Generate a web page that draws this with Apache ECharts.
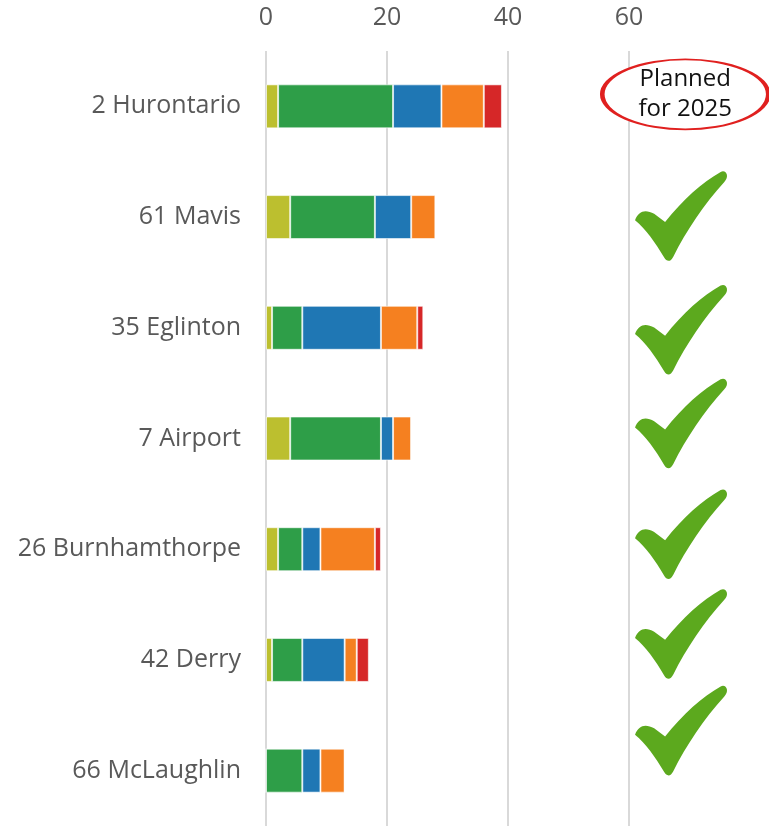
<!DOCTYPE html>
<html>
<head>
<meta charset="utf-8">
<script src="https://cdn.jsdelivr.net/npm/echarts@6/dist/echarts.min.js"></script>
<style>
  html, body { margin: 0; padding: 0; background: #fff; }
  #chart { width: 769px; height: 826px; }
</style>
</head>
<body>
<div id="chart"></div>
<script>
const routes = ['2 Hurontario', '61 Mavis', '35 Eglinton', '7 Airport', '26 Burnhamthorpe', '42 Derry', '66 McLaughlin']
// stacked segment lengths per route
const olive  = [2, 4, 1, 4, 2, 1, 0]
const green  = [19, 14, 5, 15, 4, 5, 6]
const blue   = [8, 6, 13, 2, 3, 7, 3]
const orange = [7, 4, 6, 3, 9, 2, 4]
const red    = [3, 0, 1, 0, 1, 2, 0]
const xTicks = [0, 20, 40, 60]
const plannedRoutes = ['61 Mavis', '35 Eglinton', '7 Airport', '26 Burnhamthorpe', '42 Derry', '66 McLaughlin']
const checkOffsets = [-1, 2, -15, -15, -26, -40]

const colors = ['#bcbf2f', '#2e9e48', '#1f77b4', '#f58020', '#d62728']
const font = '"Open Sans", sans-serif'

const checkPath = 'path://M0 54C4 43 12 42 21 47L33 56C52 32 74 12 94 1C100 -2 104 6 98 12C76 36 56 66 42 94C39 100 35 100 32 95C22 78 12 64 0 54Z'

const chart = echarts.init(document.getElementById('chart'))

const barSeries = [olive, green, blue, orange, red].map((d, i) => ({
  type: 'bar',
  stack: 'total',
  data: d,
  barWidth: 44,
  itemStyle: { color: colors[i], borderColor: 'rgba(255,255,255,0.6)', borderWidth: 1 },
  emphasis: { disabled: true },
}))

chart.setOption({
  animation: false,
  backgroundColor: '#fff',
  grid: { left: 266, right: 140, top: 51, bottom: 0 },
  xAxis: {
    type: 'value',
    position: 'top',
    min: 0,
    max: 60,
    interval: 20,
    axisLine: { show: false },
    axisTick: { show: false },
    axisLabel: { color: '#595959', fontSize: 25, fontFamily: font, margin: 21,
      formatter: v => xTicks.includes(v) ? String(v) : '' },
    splitLine: { lineStyle: { color: '#d9d9d9', width: 2 } },
  },
  yAxis: {
    type: 'category',
    data: routes,
    inverse: true,
    axisLine: { show: false },
    axisTick: { show: false },
    axisLabel: { color: '#595959', fontSize: 25, fontFamily: font, margin: 25 },
  },
  series: [
    ...barSeries,
    {
      type: 'scatter',
      clip: false,
      z: 5,
      symbol: 'circle',
      symbolSize: [166, 70],
      symbolOffset: [0, -12],
      itemStyle: { color: '#fff', borderColor: '#e0201f', borderWidth: 3, opacity: 1 },
      label: {
        show: true, position: 'inside',
        formatter: 'Planned\nfor 2025', color: '#111', fontSize: 24, lineHeight: 30, fontFamily: font,
      },
      emphasis: { disabled: true },
      data: [[69.3, routes[0]]],
    },
    {
      type: 'scatter',
      clip: false,
      z: 5,
      symbol: checkPath,
      symbolSize: [92, 92],
      symbolKeepAspect: true,
      itemStyle: { color: '#5ca91e', opacity: 1 },
      emphasis: { disabled: true },
      data: plannedRoutes.map((r, i) => ({ value: [68.6, r], symbolOffset: [0, checkOffsets[i]] })),
    },
  ],
})
</script>
</body>
</html>
